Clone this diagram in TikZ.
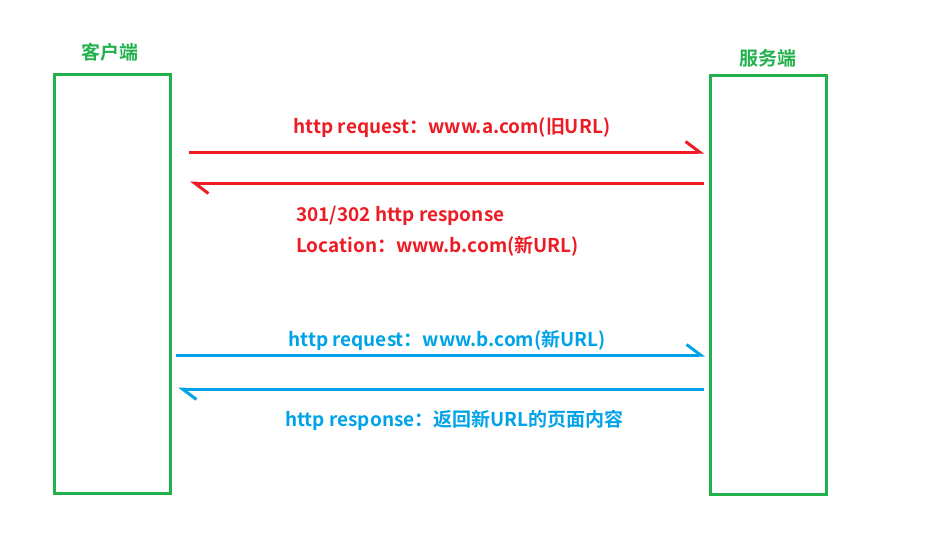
\documentclass[tikz,border=0pt]{standalone}
\usepackage{fontspec}
\setmainfont{Noto Sans CJK SC}[BoldFont={Noto Sans CJK SC Bold}]
\usepackage{tikz}
\usetikzlibrary{arrows.meta,positioning}
\definecolor{SideGreen}{HTML}{22B14C}
\definecolor{MsgRed}{HTML}{ED1C24}
\definecolor{MsgBlue}{HTML}{00A2E8}

\begin{document}
\begin{tikzpicture}[
    every node/.style={font=\fontsize{10.8pt}{13pt}\selectfont\bfseries},
    side/.style={draw=SideGreen, line width=1.7pt, minimum width=2.32cm, minimum height=8.38cm, inner sep=0pt},
    msg/.style={line width=1.7pt, -{Straight Barb[left, length=0.28cm, width=0.42cm]}}
]
\useasboundingbox (0,0) rectangle (18.54,-10.84);
\node[side] (client) at (2.25,-5.68) {};
\node[side] (server) at (15.37,-5.69) {};
\node[text=SideGreen] (clientlbl) at (2.2,-1.04) {客户端};
\node[text=SideGreen] (serverlbl) at (15.36,-1.16) {服务端};

% redirect round trip
\coordinate (r1a) at (3.78,-3.04);
\coordinate (r1b) at (14.08,-3.04);
\coordinate (r2a) at (14.08,-3.66);
\coordinate (r2b) at (3.80,-3.66);
\draw[msg, MsgRed] (r1a) -- (r1b);
\draw[msg, MsgRed] (r2a) -- (r2b);
\node[text=MsgRed] (req1) at (9.04,-2.56) {http request：www.a.com(旧URL)};
\node[text=MsgRed, anchor=west] (resp1) at (5.80,-4.32) {301/302 http response};
\node[text=MsgRed, anchor=west] (loc) at (5.80,-4.92) {Location：www.b.com(新URL)};

% second round trip
\coordinate (b1a) at (3.52,-7.10);
\coordinate (b1b) at (14.10,-7.10);
\coordinate (b2a) at (14.08,-7.78);
\coordinate (b2b) at (3.56,-7.78);
\draw[msg, MsgBlue] (b1a) -- (b1b);
\draw[msg, MsgBlue] (b2a) -- (b2b);
\node[text=MsgBlue] (req2) at (8.94,-6.80) {http request：www.b.com(新URL)};
\node[text=MsgBlue, anchor=west] (resp2) at (5.58,-8.40) {http response：返回新URL的页面内容};
\end{tikzpicture}
\end{document}
